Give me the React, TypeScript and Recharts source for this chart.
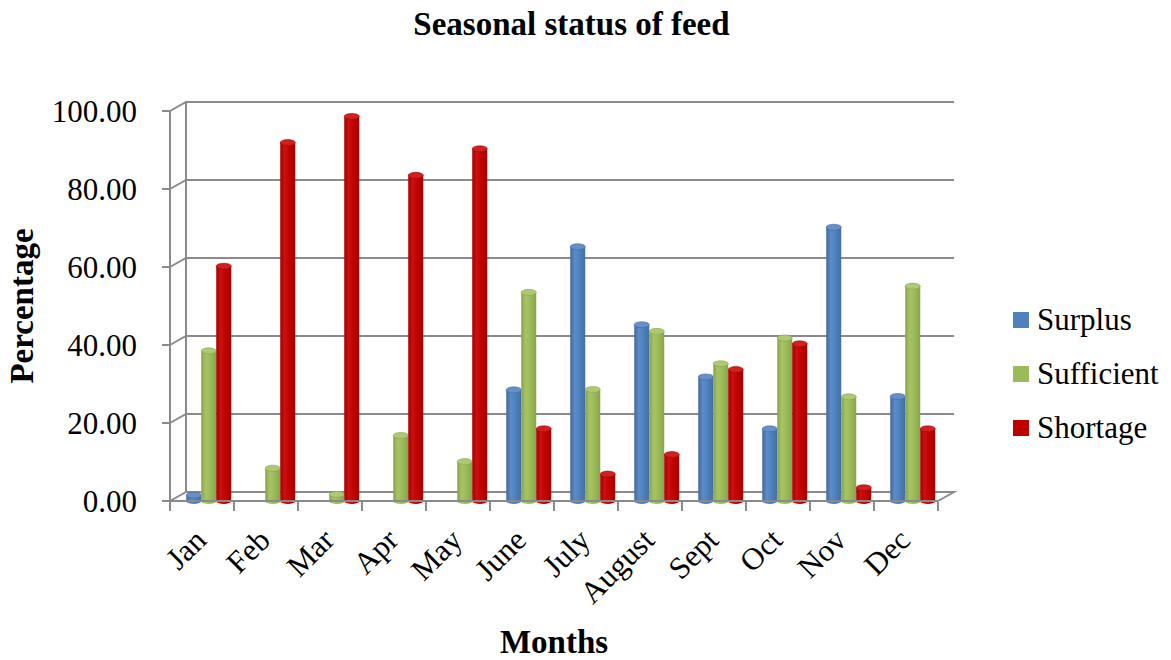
import { BarChart, Bar, XAxis, YAxis, CartesianGrid, Legend } from "recharts";

// values (percent)
const months = ["Jan", "Feb", "Mar", "Apr", "May", "June", "July", "August", "Sept", "Oct", "Nov", "Dec"];
const surplus = [1.5, 0, 0, 0, 0, 28.5, 65.2, 45.2, 31.8, 18.5, 70.2, 26.8];
const sufficient = [38.5, 8.4, 1.7, 16.8, 10.1, 53.5, 28.6, 43.5, 35.2, 41.8, 26.7, 55.1];
const shortage = [60.2, 91.9, 98.6, 83.5, 90.3, 18.5, 6.9, 11.9, 33.7, 40.3, 3.4, 18.5];
const yTicks = [0, 20, 40, 60, 80, 100];

const seriesKeys = ["surplus", "sufficient", "shortage"];
const seriesNames = ["Surplus", "Sufficient", "Shortage"];
const seriesColors = ["#4F81BD", "#9BBB59", "#C00000"];
const seriesShades = [
  ["#41699c", "#5a8cca", "#4f81bd", "#436fa5"],
  ["#86a34b", "#a6c464", "#9bbb59", "#87a54c"],
  ["#a50000", "#cc1010", "#c00000", "#a80000"],
];
const seriesTops = ["#6590c8", "#adc972", "#d02020"];

const data = months.map((m, i) => ({
  month: m,
  surplus: surplus[i],
  sufficient: sufficient[i],
  shortage: shortage[i],
}));

const W = 1171;
const H = 660;
const PLOT_LEFT = 170;
const PLOT_RIGHT = 938;
const PLOT_TOP = 111;
const PLOT_BOTTOM = 501;
const DEPTH_X = 16;
const DEPTH_Y = 9;
const BAR_SHIFT = 6;
const FONT = '"Liberation Serif", "Times New Roman", serif';
const GRID = "#8a8a8a";

// 3D-ish wall: front edge slants back to the back wall
const gridLine = (p: any) => {
  const { x1, x2, y1 } = p;
  const bx1 = x1 + DEPTH_X;
  const bx2 = x2 + DEPTH_X;
  const by = y1 - DEPTH_Y;
  let d = `M${x1},${y1}L${bx1},${by}L${bx2},${by}`;
  if (Math.abs(y1 - PLOT_BOTTOM) < 1) d += `L${x2},${y1}`;
  d += `M${bx1},${by}L${bx1},${PLOT_BOTTOM - DEPTH_Y}`;
  return <path key={p.key} d={d} fill="none" stroke={GRID} strokeWidth={2} />;
};

const Cylinder = (props: any) => {
  const { x, y, width, height, k } = props;
  if (!height || height <= 0.5) return null;
  const left = x + BAR_SHIFT;
  const rx = width / 2;
  const bottom = y + height;
  return (
    <g>
      <path
        d={`M${left},${y}L${left},${bottom}A${rx},3 0 0 0 ${left + width},${bottom}L${left + width},${y}Z`}
        fill={`url(#grad-${seriesKeys[k]})`}
      />
      <ellipse cx={left + rx} cy={y} rx={rx} ry={3} fill={seriesTops[k]} stroke={seriesShades[k][0]} strokeWidth={0.6} />
    </g>
  );
};

const MonthTick = (props: any) => {
  const { x, y, payload, index } = props;
  const bw = (PLOT_RIGHT - PLOT_LEFT) / months.length;
  const tx = x + 6;
  const ty = y + 41;
  return (
    <g>
      <line x1={x - bw / 2} y1={y + 1} x2={x - bw / 2} y2={y + 10} stroke={GRID} strokeWidth={2} />
      {index === months.length - 1 && (
        <line x1={x + bw / 2} y1={y + 1} x2={x + bw / 2} y2={y + 10} stroke={GRID} strokeWidth={2} />
      )}
      <text x={tx} y={ty} textAnchor="end" transform={`rotate(-45 ${tx} ${ty})`} fontSize={31} fontFamily={FONT} fill="#000">
        {payload.value}
      </text>
    </g>
  );
};

const renderLegend = () => (
  <div style={{ fontFamily: FONT, fontSize: 31, color: "#000" }}>
    {seriesNames.map((name, i) => (
      <div key={name} style={{ height: 54, display: "flex", alignItems: "center" }}>
        <span style={{ width: 16, height: 16, background: seriesColors[i], marginRight: 8, display: "inline-block" }} />
        <span>{name}</span>
      </div>
    ))}
  </div>
);

export default function App() {
  return (
    <div style={{ position: "absolute", left: 0, top: 0, width: W, height: H, background: "#fff" }}>
      <div
        style={{
          position: "absolute",
          left: 0,
          top: 8,
          width: 1143,
          textAlign: "center",
          fontFamily: FONT,
          fontWeight: "bold",
          fontSize: 33,
          lineHeight: "33px",
        }}
      >
        Seasonal status of feed
      </div>
      <BarChart
        width={W}
        height={H}
        data={data}
        margin={{ top: PLOT_TOP, right: W - PLOT_RIGHT, bottom: 0, left: 0 }}
        barCategoryGap="16%"
        barGap={0}
      >
        <defs>
          {seriesKeys.map((key, i) => (
            <linearGradient key={key} id={`grad-${key}`} x1="0" y1="0" x2="1" y2="0">
              <stop offset="0%" stopColor={seriesShades[i][0]} />
              <stop offset="30%" stopColor={seriesShades[i][1]} />
              <stop offset="60%" stopColor={seriesShades[i][2]} />
              <stop offset="100%" stopColor={seriesShades[i][3]} />
            </linearGradient>
          ))}
        </defs>
        <CartesianGrid vertical={false} horizontal={gridLine} />
        <XAxis
          dataKey="month"
          height={H - PLOT_BOTTOM}
          interval={0}
          tickSize={0}
          tickMargin={0}
          tickLine={false}
          axisLine={{ stroke: GRID, strokeWidth: 2 }}
          tick={<MonthTick />}
          label={{
            value: "Months",
            content: (p: any) => (
              <text
                x={p.viewBox.x + p.viewBox.width / 2}
                y={p.viewBox.y + p.viewBox.height - 7}
                textAnchor="middle"
                fontFamily={FONT}
                fontWeight="bold"
                fontSize={33}
                fill="#000"
              >
                Months
              </text>
            ),
          }}
        />
        <YAxis
          width={PLOT_LEFT}
          domain={[0, 100]}
          ticks={yTicks}
          interval={0}
          tickFormatter={(v: number) => v.toFixed(2)}
          tickSize={8}
          tickMargin={25}
          tickLine={{ stroke: GRID, strokeWidth: 2 }}
          axisLine={{ stroke: GRID, strokeWidth: 2 }}
          tick={{ fontSize: 31, fontFamily: FONT, fill: "#000" }}
          label={{
            value: "Percentage",
            content: (p: any) => {
              const cy = p.viewBox.y + p.viewBox.height / 2;
              return (
                <text
                  x={33}
                  y={cy}
                  transform={`rotate(-90 33 ${cy})`}
                  textAnchor="middle"
                  fontFamily={FONT}
                  fontWeight="bold"
                  fontSize={33}
                  fill="#000"
                >
                  Percentage
                </text>
              );
            },
          }}
        />
        <Legend
          layout="vertical"
          align="center"
          verticalAlign="middle"
          wrapperStyle={{ left: 1013, top: 293, width: 158 }}
          content={renderLegend}
        />
        {seriesKeys.map((key, i) => (
          <Bar
            key={key}
            dataKey={key}
            name={seriesNames[i]}
            fill={seriesColors[i]}
            isAnimationActive={false}
            shape={(p: any) => <Cylinder {...p} k={i} />}
          />
        ))}
      </BarChart>
    </div>
  );
}
